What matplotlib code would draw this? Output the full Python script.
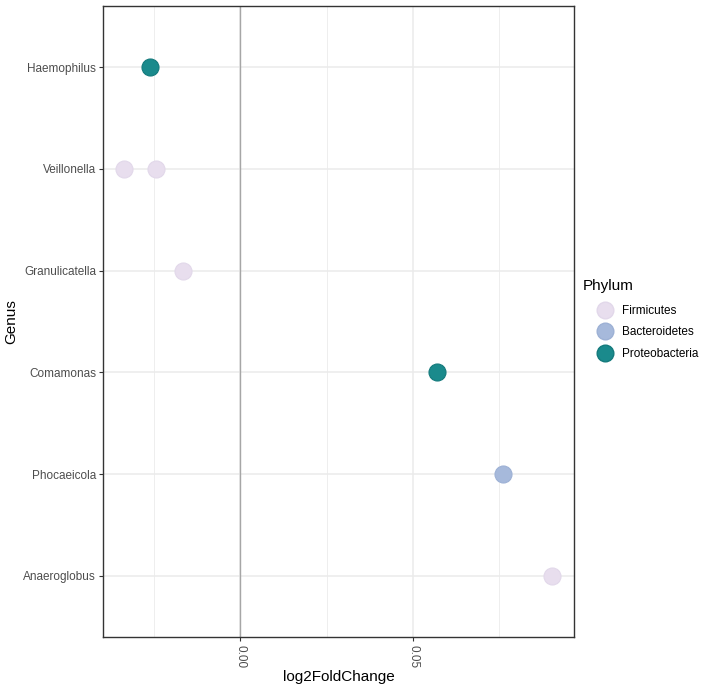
"""Dot plot of log2 fold change per genus, coloured by phylum."""

import matplotlib
matplotlib.use('Agg')
import matplotlib.pyplot as plt
from matplotlib.lines import Line2D

plt.rcParams['font.family'] = ['Liberation Sans', 'DejaVu Sans']

# Data
genera = ['Anaeroglobus', 'Phocaeicola', 'Comamonas', 'Granulicatella', 'Veillonella', 'Haemophilus']
point_genus = ['Haemophilus', 'Veillonella', 'Veillonella', 'Granulicatella', 'Comamonas', 'Phocaeicola', 'Anaeroglobus']
point_lfc = [-0.0261, -0.0336, -0.0246, -0.0166, 0.0570, 0.0761, 0.0903]
point_phylum = ['Proteobacteria', 'Firmicutes', 'Firmicutes', 'Firmicutes', 'Proteobacteria', 'Bacteroidetes', 'Firmicutes']

phyla = ['Firmicutes', 'Bacteroidetes', 'Proteobacteria']
phylum_colors = {'Firmicutes': '#E8DEEE', 'Bacteroidetes': '#A6B9DB', 'Proteobacteria': '#1A8A8C'}
edge_colors = {'Firmicutes': '#E2D8EA', 'Bacteroidetes': '#9DB1D5', 'Proteobacteria': '#147A7C'}

#########################################
### Figure

fig = plt.figure(figsize=(7.08, 6.9), dpi=100)
ax = fig.add_axes([0.1455, 0.0768, 0.6653, 0.9145])

ypos = {g: i + 1 for i, g in enumerate(genera)}

# grid like theme_bw
for x in [-0.025, 0.025, 0.075]:
    ax.axvline(x, color='#EBEBEB', lw=0.6, zorder=0)
for x in [0.0, 0.05]:
    ax.axvline(x, color='#EBEBEB', lw=1.1, zorder=0)
for y in ypos.values():
    ax.axhline(y, color='#EBEBEB', lw=1.1, zorder=0)
ax.axvline(0, color='#A6A6A6', lw=1.0, zorder=1)

for g, v, p in zip(point_genus, point_lfc, point_phylum):
    ax.scatter(v, ypos[g], s=150, color=phylum_colors[p], edgecolor=edge_colors[p],
               linewidth=0.8, zorder=3)

ax.set_xlim(-0.0398, 0.0966)
ax.set_ylim(0.4, 6.6)
ax.set_yticks(list(ypos.values()))
ax.set_yticklabels(genera, fontsize=8.5, color='#4D4D4D')
ax.set_xticks([0.0, 0.05])
ax.set_xticklabels(['0.00', '0.05'], rotation=270, fontsize=8.5, color='#4D4D4D')
ax.tick_params(length=3, width=0.8, color='#333333', pad=2)
ax.tick_params(axis='x', pad=3)
ax.set_xlabel('log2FoldChange', fontsize=11, labelpad=1)
ax.set_ylabel('Genus', fontsize=11, labelpad=4)
for s in ax.spines.values():
    s.set_color('#333333')
    s.set_linewidth(1.0)

# legend: title drawn separately so keys sit indented like ggplot
fig.text(583 / 708, 1 - 286 / 690, 'Phylum', fontsize=11, ha='left', va='center')
handles = [Line2D([], [], marker='o', ls='', markersize=12, markerfacecolor=phylum_colors[p],
                  markeredgecolor=edge_colors[p], label=p) for p in phyla]
fig.legend(handles=handles, loc='upper left', bbox_to_anchor=(596 / 708, 1 - 305 / 690),
           frameon=False, fontsize=8.5, handletextpad=0.6, labelspacing=0.8,
           borderaxespad=0, borderpad=0, handlelength=1.6)

fig.savefig('out.png', dpi=100)
